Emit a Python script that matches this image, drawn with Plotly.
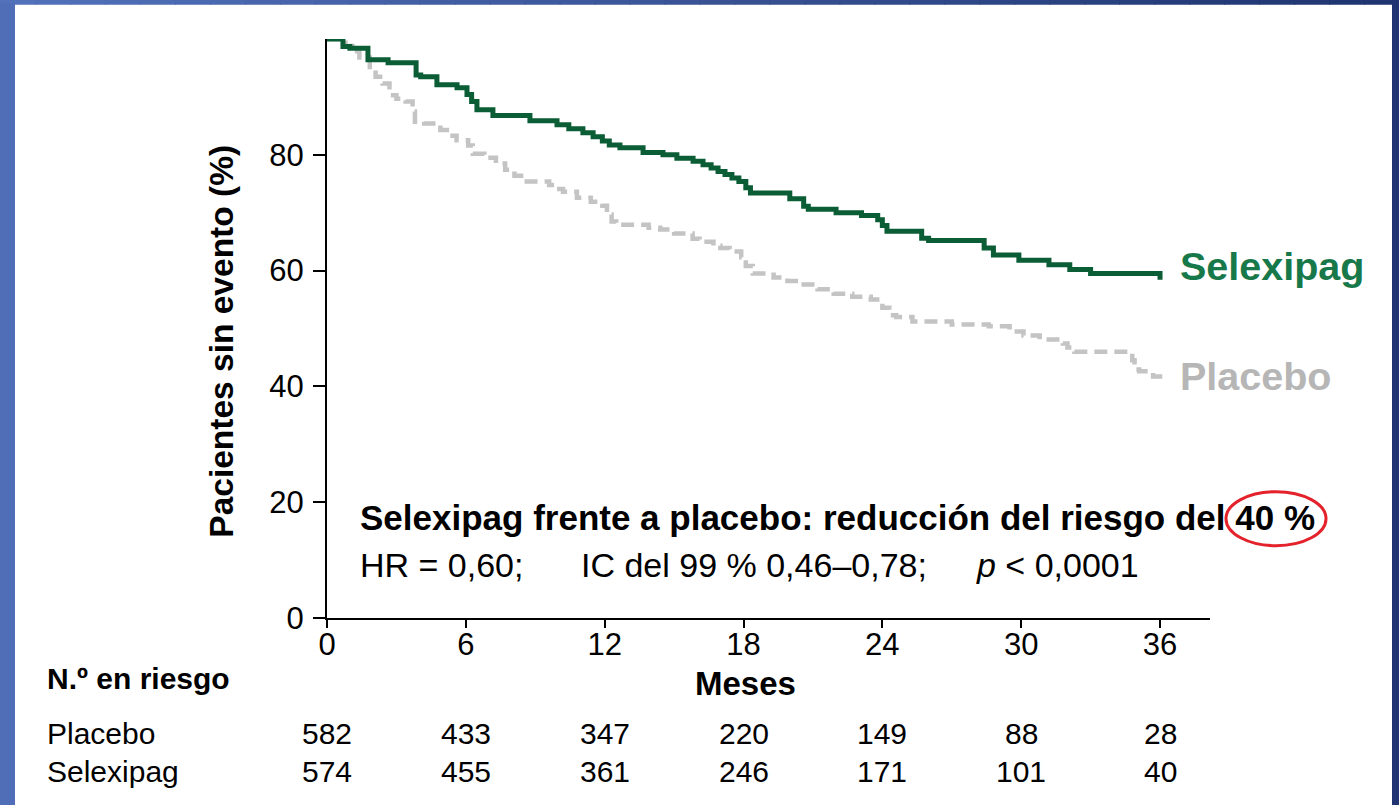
import plotly.graph_objects as go

# ---------------- data ----------------
months_sel = [0, 0.69, 0.99, 1.77, 2.64, 3.85, 4.05, 4.75, 5.62, 6.05,
              6.25, 6.48, 7.17, 8.77, 9.94, 10.45, 11.06, 11.5, 11.9, 12.2,
              12.66, 13.66, 14.52, 15.12, 15.82, 16.25, 16.6, 16.9, 17.2, 17.5,
              17.8, 18.1, 18.3, 20.0, 20.6, 20.8, 22.0, 23.1, 23.8, 24.0,
              24.2, 25.7, 26.0, 28.4, 28.8, 29.9, 31.2, 32.1, 33.0, 36.0]
surv_sel = [100, 98.7, 98.4, 96.4, 95.9, 93.8, 93.5, 92.1, 91.6, 90.4,
            89.2, 87.8, 86.8, 85.9, 85.2, 84.5, 83.8, 83.1, 82.4, 81.7,
            81.2, 80.4, 80.0, 79.4, 78.9, 78.3, 77.7, 77.1, 76.6, 76.0,
            75.4, 74.3, 73.4, 72.4, 71.1, 70.6, 70.0, 69.5, 68.8, 67.8,
            66.8, 65.6, 65.2, 63.9, 62.7, 61.8, 61.0, 60.2, 59.5, 58.4]

months_pla = [0, 0.8, 1.1, 1.4, 1.85, 2.1, 2.4, 2.7, 3.0, 3.4,
              3.7, 3.8, 4.2, 4.9, 5.3, 5.6, 6.1, 6.3, 6.8, 7.3,
              7.7, 8.1, 8.5, 9.6, 9.9, 10.2, 10.8, 11.4, 11.9, 12.1,
              12.3, 12.5, 13.9, 14.4, 15.0, 15.8, 16.1, 16.7, 17.0, 17.4,
              17.9, 18.1, 18.4, 19.0, 19.3, 19.9, 20.4, 21.2, 21.9, 22.7,
              23.5, 24.0, 24.3, 24.6, 25.3, 27.0, 28.6, 29.5, 30.1, 30.8,
              31.8, 32.0, 32.3, 34.8, 34.9, 35.1, 35.7, 36.0]
surv_pla = [100, 98.8, 97.9, 96.8, 94.7, 93.5, 92.3, 90.3, 89.7, 89.2,
            87.5, 85.7, 85.4, 84.3, 83.3, 82.5, 81.6, 80.2, 79.5, 78.5,
            77.4, 76.4, 75.4, 74.8, 74.1, 73.6, 72.6, 71.9, 71.2, 69.7,
            68.5, 67.9, 67.4, 67.1, 66.4, 65.5, 65.0, 64.3, 63.9, 63.3,
            62.3, 60.8, 59.5, 59.3, 58.8, 58.2, 57.6, 56.8, 56.0, 55.5,
            55.0, 53.6, 52.3, 52.0, 51.2, 50.7, 50.4, 49.5, 48.8, 48.1,
            47.4, 46.7, 46.0, 44.5, 42.9, 42.6, 41.7, 41.3]

risk_months = [0, 6, 12, 18, 24, 30, 36]
risk_placebo = [582, 433, 347, 220, 149, 88, 28]
risk_selexipag = [574, 455, 361, 246, 171, 101, 40]
y_ticks = [0, 20, 40, 60, 80]

series_names = ["Selexipag", "Placebo"]
y_title = "Pacientes sin evento (%)"
x_title = "Meses"
risk_title = "N.º en riesgo"
stat_line1 = "Selexipag frente a placebo: reducción del riesgo del 40 %"
stat_line2 = ["HR = 0,60;", "IC del 99 % 0,46–0,78;", "<i>p</i> < 0,0001"]

# ---------------- layout helpers ----------------
W, H = 1399, 805
L, R, T, B = 327, 1210, 39.3, 618.3
XMAX = 38.16
FONT = "Liberation Sans, Arial, Helvetica, sans-serif"
GREEN = "#0b5d35"
GREEN_TXT = "#17784a"
GRAY = "#c4c4c4"
GRAY_TXT = "#b6b6b6"


def pxx(p):
    return (p - L) / (R - L)


def pxy(p):
    return (B - p) / (B - T)


fig = go.Figure()
fig.add_trace(go.Scatter(
    x=months_pla, y=surv_pla, mode="lines", name=series_names[1],
    line=dict(shape="hv", color=GRAY, width=4.5, dash="13px,7px"),
    cliponaxis=False, showlegend=False, hoverinfo="skip"))
fig.add_trace(go.Scatter(
    x=months_sel, y=surv_sel, mode="lines", name=series_names[0],
    line=dict(shape="hv", color=GREEN, width=5),
    cliponaxis=False, showlegend=False, hoverinfo="skip"))

ann = []
# axis titles
ann.append(dict(x=pxx(222), y=pxy(342), xref="paper", yref="paper",
                text="<b>%s</b>" % y_title, textangle=-90, showarrow=False,
                font=dict(family=FONT, size=33.5, color="black"),
                xanchor="center", yanchor="middle"))
ann.append(dict(x=pxx(745), y=pxy(684), xref="paper", yref="paper",
                text="<b>%s</b>" % x_title, showarrow=False,
                font=dict(family=FONT, size=33, color="black"),
                xanchor="center", yanchor="middle"))
# series labels
ann.append(dict(x=pxx(1178), y=pxy(266), xref="paper", yref="paper",
                text="<b>%s</b>" % series_names[0], showarrow=False,
                font=dict(family=FONT, size=39.5, color=GREEN_TXT),
                xanchor="left", yanchor="middle"))
ann.append(dict(x=pxx(1178), y=pxy(376), xref="paper", yref="paper",
                text="<b>%s</b>" % series_names[1], showarrow=False,
                font=dict(family=FONT, size=39.5, color=GRAY_TXT),
                xanchor="left", yanchor="middle"))
# statistics
ann.append(dict(x=pxx(358), y=pxy(518), xref="paper", yref="paper",
                text="<b>%s</b>" % stat_line1, showarrow=False,
                font=dict(family=FONT, size=35, color="black"),
                xanchor="left", yanchor="middle"))
for txt, xpx in zip(stat_line2, [358, 579, 974]):
    ann.append(dict(x=pxx(xpx), y=pxy(565), xref="paper", yref="paper",
                    text=txt, showarrow=False,
                    font=dict(family=FONT, size=34, color="black"),
                    xanchor="left", yanchor="middle"))
# number at risk
ann.append(dict(x=pxx(45), y=pxy(679), xref="paper", yref="paper",
                text="<b>%s</b>" % risk_title, showarrow=False,
                font=dict(family=FONT, size=30, color="black"),
                xanchor="left", yanchor="middle"))
for name, vals, ypx in [(series_names[1], risk_placebo, 734),
                        (series_names[0], risk_selexipag, 772)]:
    ann.append(dict(x=pxx(45), y=pxy(ypx), xref="paper", yref="paper",
                    text=name, showarrow=False,
                    font=dict(family=FONT, size=30, color="black"),
                    xanchor="left", yanchor="middle"))
    for m, v in zip(risk_months, vals):
        ann.append(dict(x=m, y=pxy(ypx), xref="x", yref="paper",
                        text=str(v), showarrow=False,
                        font=dict(family=FONT, size=30, color="black"),
                        xanchor="center", yanchor="middle"))

shapes = []
# red ellipse around "40 %"
shapes.append(dict(type="circle", xref="paper", yref="paper",
                   x0=pxx(1226), x1=pxx(1326), y0=pxy(546), y1=pxy(492),
                   line=dict(color="#e3222b", width=3), layer="above"))
# blue frame (gradient top bar)
n = 40
c0 = (82, 113, 186)
c1 = (31, 52, 112)
for i in range(n):
    f = i / (n - 1)
    col = "rgb(%d,%d,%d)" % tuple(round(a + (b - a) * f) for a, b in zip(c0, c1))
    shapes.append(dict(type="rect", xref="paper", yref="paper",
                       x0=pxx(W * i / n), x1=pxx(W * (i + 1) / n + 1),
                       y0=pxy(5), y1=pxy(-2), fillcolor=col,
                       line=dict(width=0), layer="below"))
shapes.append(dict(type="rect", xref="paper", yref="paper",
                   x0=pxx(-2), x1=pxx(15), y0=pxy(H + 2), y1=pxy(4),
                   fillcolor="rgb(80,110,183)", line=dict(width=0), layer="below"))
shapes.append(dict(type="rect", xref="paper", yref="paper",
                   x0=pxx(1392), x1=pxx(W + 2), y0=pxy(H + 2), y1=pxy(4),
                   fillcolor="rgb(31,52,113)", line=dict(width=0), layer="below"))

fig.update_layout(
    width=W, height=H, autosize=False,
    margin=dict(l=L, r=W - R, t=T, b=H - B, pad=0),
    paper_bgcolor="white", plot_bgcolor="rgba(0,0,0,0)",
    font=dict(family=FONT, color="black"),
    annotations=ann, shapes=shapes, showlegend=False,
    xaxis=dict(range=[0, XMAX], tickvals=risk_months,
               ticktext=[str(m) for m in risk_months],
               ticks="outside", ticklen=8, tickwidth=2, tickcolor="black",
               ticklabelstandoff=-10,
               showline=True, linecolor="black", linewidth=2,
               showgrid=False, zeroline=False,
               tickfont=dict(family=FONT, size=31, color="black")),
    yaxis=dict(range=[0, 100], tickvals=y_ticks,
               ticktext=[str(v) for v in y_ticks],
               ticks="outside", ticklen=12, tickwidth=2, tickcolor="black",
               ticklabelstandoff=3,
               showline=True, linecolor="black", linewidth=2,
               showgrid=False, zeroline=False,
               tickfont=dict(family=FONT, size=31, color="black")),
)

fig.write_html("out.html")
